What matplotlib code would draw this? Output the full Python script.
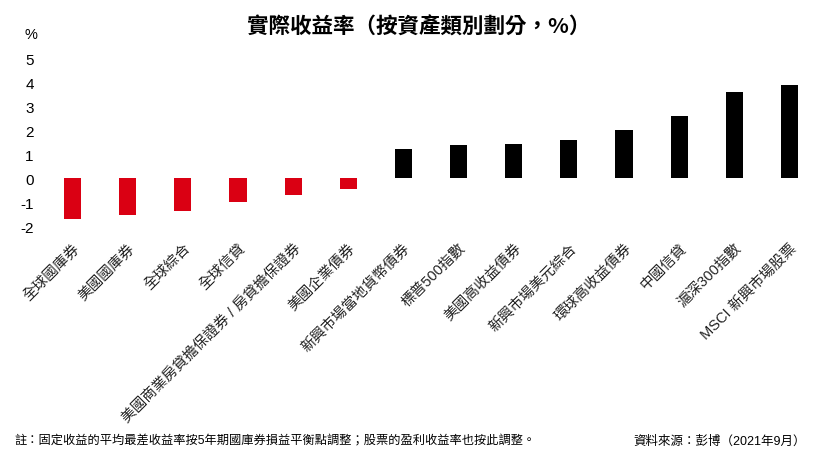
import matplotlib.pyplot as plt
import numpy as np

plt.rcParams["font.family"] = ["Liberation Sans", "Noto Sans CJK TC", "DejaVu Sans"]

# ============================================================
# Data
# ============================================================

categories = [
    "全球國庫券",
    "美國國庫券",
    "全球綜合",
    "全球信貸",
    "美國商業房貸擔保證券 / 房貸擔保證券",
    "美國企業債券",
    "新興市場當地貨幣債券",
    "標普500指數",
    "美國高收益債券",
    "新興市場美元綜合",
    "環球高收益債券",
    "中國信貸",
    "滬深300指數",
    "MSCI 新興市場股票",
]

real_yield = [
    -1.71, -1.54, -1.38, -1.0, -0.7, -0.45,
    1.21, 1.37, 1.42, 1.58, 2.0, 2.58, 3.58, 3.88,
]

y_ticks = [-2, -1, 0, 1, 2, 3, 4, 5]

title = "實際收益率（按資產類別劃分，%）"
note = "註：固定收益的平均最差收益率按5年期國庫券損益平衡點調整；股票的盈利收益率也按此調整。"
source = "資料來源：彭博（2021年9月）"

# ============================================================
# Plot
# ============================================================

fig = plt.figure(figsize=(8.25, 4.56), dpi=100)
ax = fig.add_axes([0.0545, 0.4857, 0.9358, 0.40])

x = np.arange(len(categories))
colors = ["#DA0013" if v < 0 else "#000000" for v in real_yield]

ax.bar(x, real_yield, width=0.31, color=colors)

ax.set_xlim(-0.5, len(categories) - 0.5)
ax.set_ylim(-2.3, 5.3)
ax.set_yticks(y_ticks)
ax.set_yticklabels([str(t) for t in y_ticks], fontsize=11)
ax.tick_params(axis="y", length=0, pad=8)

ax.set_xticks(x)
ax.set_xticklabels(
    categories,
    rotation=45,
    ha="right",
    va="top",
    rotation_mode="anchor",
    fontsize=10.5,
    color="#222222",
)
ax.tick_params(axis="x", length=0, pad=5)

for spine in ax.spines.values():
    spine.set_visible(False)

fig.text(0.037, 0.923, "%", fontsize=10.5, ha="center", va="center")

fig.text(
    0.507, 0.94, title,
    fontsize=15.5, fontweight="bold", ha="center", va="center",
    family=["Noto Sans CJK TC", "DejaVu Sans"],
)

fig.text(0.018, 0.032, note, fontsize=8.8, ha="left", va="center")
fig.text(0.977, 0.032, source, fontsize=9, ha="right", va="center")

fig.savefig("out.png", dpi=100)
